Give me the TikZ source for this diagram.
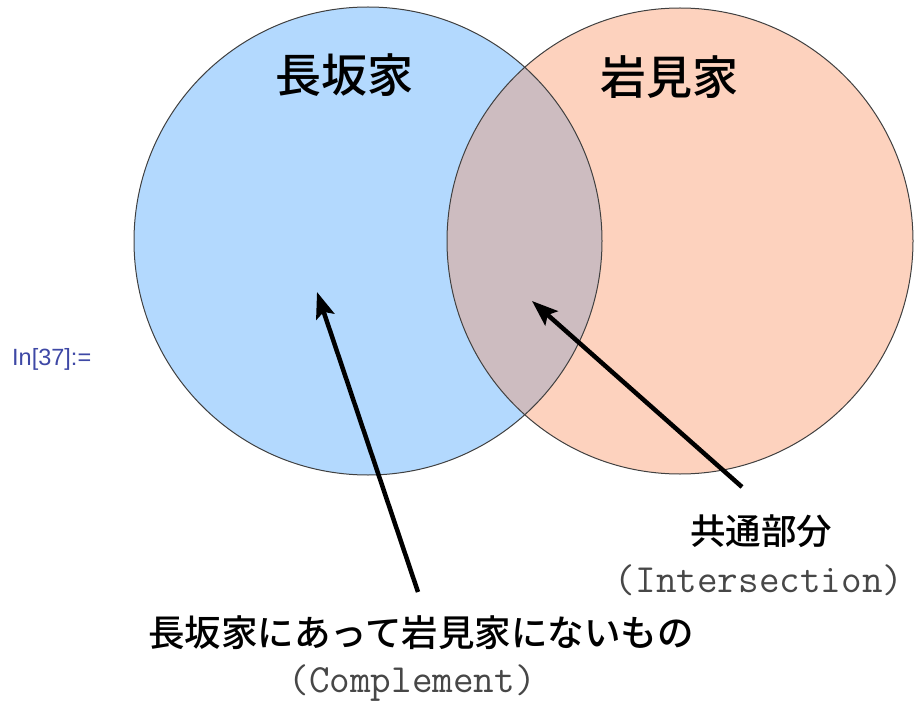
\documentclass[tikz,border=0pt]{standalone}
\usepackage{fontspec}
\newfontfamily\jpfont{Noto Sans CJK JP Medium}
\newfontfamily\uifont{Liberation Sans}
\usetikzlibrary{arrows.meta}
\definecolor{setblue}{RGB}{179,217,254}
\definecolor{setorange}{RGB}{253,210,190}
\definecolor{setboth}{RGB}{205,188,192}
\definecolor{promptblue}{RGB}{62,72,165}
\tikzset{
  setline/.style={draw=black!75, line width=1pt},
  bigarrow/.style={line width=4.5pt, -{Stealth[length=26pt,width=19pt,inset=5pt]}},
  jplabel/.style={inner sep=0pt, anchor=base, font=\jpfont},
  monolabel/.style={inner sep=0pt, anchor=base, font=\ttfamily\fontsize{40}{44}\selectfont, text=black!72},
}
\begin{document}
\begin{tikzpicture}[x=1pt,y=-1pt]
\useasboundingbox (0,0) rectangle (914,706);
% circles
\fill[setblue] (368,241) circle[radius=234pt];
\fill[setorange] (680,241) circle[radius=233pt];
\begin{scope}
  \clip (368,241) circle[radius=234pt];
  \fill[setboth] (680,241) circle[radius=233pt];
\end{scope}
\draw[setline] (368,241) circle[radius=234pt];
\draw[setline] (680,241) circle[radius=233pt];
% labels
\node[jplabel, font=\jpfont\fontsize{46}{50}\selectfont] (nagasaka) at (344,93) {長坂家};
\node[jplabel, font=\jpfont\fontsize{46}{50}\selectfont] (iwami) at (669,95) {岩見家};
\node[jplabel, font=\jpfont\fontsize{35.5}{40}\selectfont] (common) at (761,544) {共通部分};
\node[monolabel] (inter) at (759,592) {(Intersection)};
\node[jplabel, font=\jpfont\fontsize{36.5}{40}\selectfont] (only) at (421,646) {長坂家にあって岩見家にないもの};
\node[monolabel] (compl) at (412,692) {(Complement)};
\node[inner sep=0pt, anchor=base west, font=\uifont\fontsize{23.5}{27}\selectfont, text=promptblue] (prompt) at (12,365) {In[37]:=};
% arrows
\coordinate (tailA) at (418,592);
\coordinate (tipA) at (317,292);
\coordinate (tailB) at (742,487);
\coordinate (tipB) at (532,301);
\draw[bigarrow] (tailA) -- (tipA);
\draw[bigarrow] (tailB) -- (tipB);
\end{tikzpicture}
\end{document}
